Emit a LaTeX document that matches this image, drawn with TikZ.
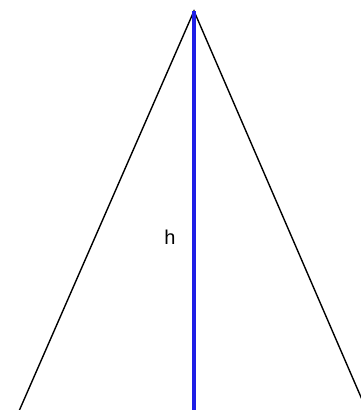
\documentclass[tikz,border=0pt]{standalone}
\usepackage{fontspec}
\setmainfont{Liberation Sans}
\definecolor{hblue}{RGB}{30,30,230}
\begin{document}
\begin{tikzpicture}[x=1pt,y=-1pt,
  side/.style={draw=black,line width=1.4pt},
  height/.style={draw=hblue,line width=3.2pt},
  lbl/.style={font=\fontsize{20}{24}\selectfont,inner sep=0pt}]
\useasboundingbox (0,0) rectangle (361,410);
\clip (0,0) rectangle (361,410);
\coordinate (A) at (194,11);
\coordinate (B) at (16,418);
\coordinate (C) at (370,418);
\coordinate (F) at (194,418);
\draw[side] (B) -- (A) -- (C);
\draw[height] (A) -- (F);
\node[lbl] (h) at (170,237) {h};
\end{tikzpicture}
\end{document}
